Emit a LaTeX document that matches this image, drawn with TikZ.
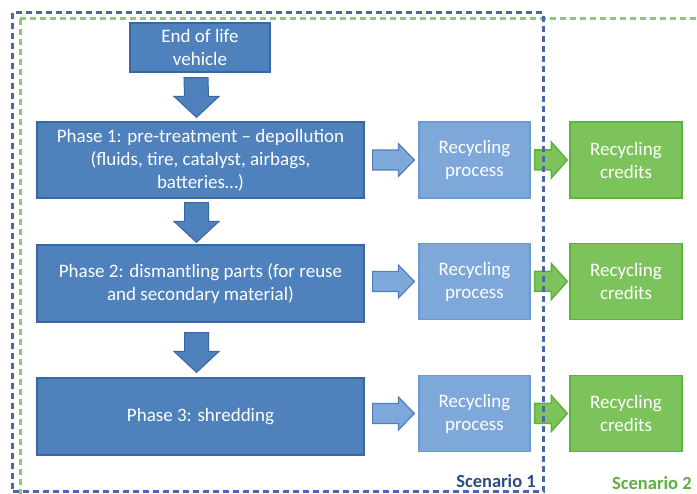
\documentclass[tikz,border=0pt]{standalone}
\usepackage{fontspec}
\setmainfont{Carlito}
\usetikzlibrary{calc}
\definecolor{dkfill}{HTML}{4F81BD}
\definecolor{dkborder}{HTML}{3A679E}
\definecolor{ltfill}{HTML}{7EA8DA}
\definecolor{ltborder}{HTML}{6D9AD0}
\definecolor{grfill}{HTML}{7DC35B}
\definecolor{grborder}{HTML}{5DB23A}
\definecolor{scenblue}{HTML}{4A68A6}
\definecolor{scengreen}{HTML}{8DC87A}
\definecolor{labblue}{HTML}{2E4C86}
\definecolor{labgreen}{HTML}{5CB040}
\newcommand\dnarr[4]{%
  \draw[dnarrowstyle]
    ($(#1.south)+(-16,#3)$) -- ($(#1.south)+(8,#3)$) --
    ($(#2.north)+(8,-#4-21)$) -- ($(#2.north)+(18.5,-#4-21)$) --
    ($(#2.north)+(-4,-#4)$) -- ($(#2.north)+(-26.5,-#4-21)$) --
    ($(#2.north)+(-16,-#4-21)$) -- cycle;}
\newcommand\rtarr[7]{% from, to, style, startgap, tipgap, shafthalf, headhalf
  \draw[#3]
    ($(#1.east |- #2.west)+(#4,-#6)$) -- ($(#2.west)+(-#5-16,-#6)$) --
    ($(#2.west)+(-#5-16,-#7)$) -- ($(#2.west)+(-#5,0)$) --
    ($(#2.west)+(-#5-16,#7)$) -- ($(#2.west)+(-#5-16,#6)$) --
    ($(#1.east |- #2.west)+(#4,#6)$) -- cycle;}
\tikzset{
  boxtext/.style={text=white, align=center, inner sep=0pt,
    font=\fontsize{19}{23}\selectfont},
  darkbox/.style={boxtext, draw=dkborder, fill=dkfill, line width=1.2pt},
  lightbox/.style={boxtext, draw=ltborder, fill=ltfill, line width=1.2pt,
    minimum width=111pt, minimum height=76pt},
  greenbox/.style={boxtext, draw=grborder, fill=grfill, line width=1.5pt,
    minimum width=112pt, minimum height=76pt},
  dnarrowstyle/.style={draw=dkborder, fill=dkfill, line width=1pt},
  ltarrow/.style={draw=dkfill, fill=ltfill, line width=1.2pt},
  grarrow/.style={draw=grborder, fill=grfill, line width=1.5pt},
  scen/.style={dash pattern=on 6pt off 4pt, line width=3pt},
  scenlabel/.style={font=\fontsize{18.5}{22}\selectfont\bfseries, inner sep=0pt}
}
\begin{document}
\begin{tikzpicture}[x=1pt,y=-1pt]
\useasboundingbox (0,0) rectangle (697,494);
\fill[white] (0,0) rectangle (697,494);

\node[darkbox, minimum width=140pt, minimum height=49pt] (eol) at (200,47.5) {End of life\\vehicle};
\node[darkbox, minimum width=327pt, minimum height=76pt] (p1) at (200.5,160)
  {Phase 1: pre-treatment -- depollution\\(fluids, tire, catalyst, airbags,\\batteries\ldots)};
\node[darkbox, minimum width=327pt, minimum height=77pt] (p2) at (200.5,283.5)
  {Phase 2: dismantling parts (for reuse\\and secondary material)};
\node[darkbox, minimum width=327pt, minimum height=77pt] (p3) at (200.5,416.5)
  {Phase 3: shredding};

\node[lightbox] (rp1) at (474.5,160) {Recycling\\process};
\node[lightbox] (rp2) at (474.5,281.5) {Recycling\\process};
\node[lightbox] (rp3) at (474.5,413.5) {Recycling\\process};

\node[greenbox] (rc1) at (626,160) {Recycling\\credits};
\node[greenbox] (rc2) at (626,281.5) {Recycling\\credits};
\node[greenbox] (rc3) at (626,413.5) {Recycling\\credits};

\dnarr{eol}{p1}{5}{4}
\dnarr{p1}{p2}{4}{2}
\dnarr{p2}{p3}{10}{5}

\rtarr{p1}{rp1}{ltarrow}{8}{4}{10}{16.5}
\rtarr{p2}{rp2}{ltarrow}{8}{4}{10}{16.5}
\rtarr{p3}{rp3}{ltarrow}{8}{4}{10}{16.5}

\rtarr{rp1}{rc1}{grarrow}{4}{2}{10}{18}
\rtarr{rp2}{rc2}{grarrow}{4}{2}{10}{18}
\rtarr{rp3}{rc3}{grarrow}{4}{2}{10}{18}

\draw[scen, scengreen] (20,19) rectangle (712,505);
\draw[scen, scenblue] (12,13) rectangle (543,492);

\node[scenlabel, text=labblue, anchor=east] (s1) at (536,481.5) {Scenario 1};
\node[scenlabel, text=labgreen, anchor=west] (s2) at (612,483.5) {Scenario 2};
\end{tikzpicture}
\end{document}
